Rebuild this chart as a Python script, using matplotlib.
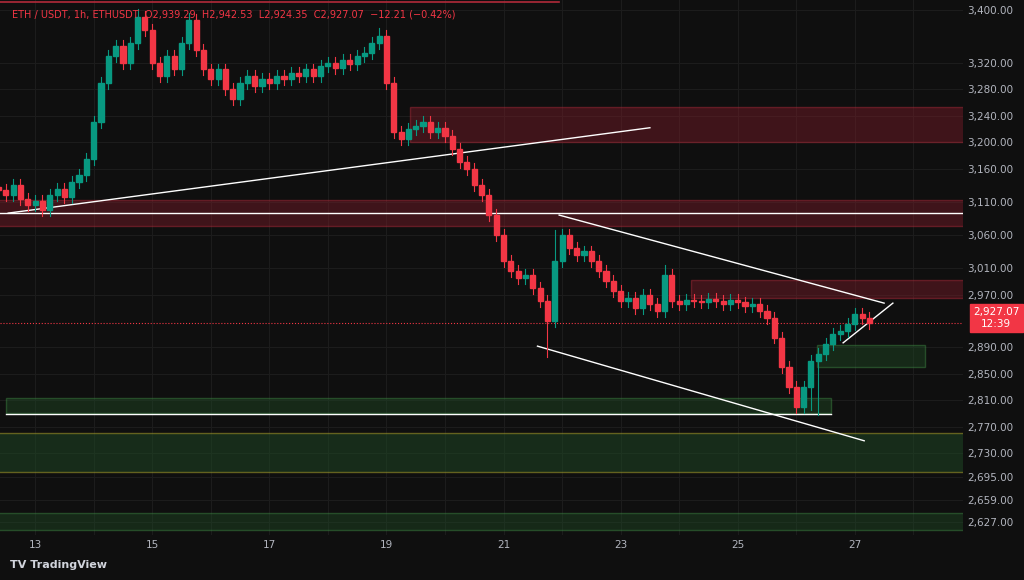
import matplotlib.pyplot as plt
from matplotlib.patches import Rectangle

# 3-hour closes, first candle at day 12.375
start_day = 12.375
step = 0.125
closes = [
    3128, 3120, 3135, 3115, 3105,
    3112, 3098, 3120, 3130, 3118, 3140, 3150, 3175,
    3230, 3290, 3330, 3345, 3320, 3350, 3390, 3370,
    3320, 3300, 3330, 3310, 3350, 3385, 3340, 3310,
    3295, 3310, 3280, 3265, 3290, 3300, 3285, 3295,
    3290, 3300, 3295, 3305, 3300, 3310, 3300, 3315,
    3320, 3312, 3325, 3318, 3330, 3335, 3350, 3360,
    3290, 3215, 3205, 3220, 3225, 3230, 3215, 3222,
    3210, 3190, 3170, 3160, 3135, 3120, 3090, 3060,
    3020, 3005, 2995, 3000, 2980, 2960, 2930, 3020,
    3060, 3040, 3030, 3035, 3020, 3005, 2990, 2975,
    2960, 2965, 2950, 2970, 2955, 2945, 3000, 2960,
    2955, 2962, 2960, 2958, 2963, 2960, 2955, 2962,
    2958, 2952, 2955, 2945, 2935, 2905, 2860, 2830,
    2800, 2830, 2870, 2880, 2895, 2910, 2915, 2925,
    2940, 2935, 2927,
]
# notable wick extremes: candle index -> (high, low)
wick_extremes = {19: (3402, None), 26: (3395, None), 52: (3372, None),
                 75: (None, 2875), 76: (3068, None), 91: (3015, None),
                 112: (None, 2788), 111: (None, 2795)}
default_wick = 9

tick_prices = [3400, 3320, 3280, 3240, 3200, 3160, 3110, 3060, 3010, 2970,
               2890, 2850, 2810, 2770, 2730, 2695, 2659, 2627]
day_ticks = [13, 15, 17, 19, 21, 23, 25, 27]
last_price = 2927.07

BG = "#0f0f0f"
UP = "#089981"
DOWN = "#f23645"

fig = plt.figure(figsize=(10.24, 5.8), dpi=100, facecolor=BG)
ax = fig.add_axes([0, 0.078, 0.94, 0.922], facecolor=BG)
ax.set_xlim(12.4, 28.84)
ax.set_ylim(2607, 3415)

for p in tick_prices:
    ax.axhline(p, color="#1c1c1c", lw=0.8, zorder=0)
for d in day_ticks:
    ax.axvline(d, color="#1c1c1c", lw=0.8, zorder=0)
    ax.axvline(d + 1, color="#1c1c1c", lw=0.8, zorder=0)

# zones
def zone(x0, x1, lo, hi, face, edge, alpha=0.45):
    ax.add_patch(Rectangle((x0, lo), x1 - x0, hi - lo, facecolor=face,
                           edgecolor=edge, lw=1, alpha=alpha, zorder=1))

zone(19.4, 30, 3200, 3253, "#7a1c28", "#b02a3a")
zone(11, 30, 3073, 3113, "#7a1c28", "#b02a3a")
zone(24.2, 30, 2965, 2992, "#7a1c28", "#b02a3a")
zone(26.35, 28.2, 2861, 2894, "#1f4a25", "#3f8a45")
zone(12.5, 26.6, 2791, 2814, "#1f4a25", "#3f8a45")
zone(11, 30, 2702, 2761, "#1f4a25", "#b5a82a", alpha=0.5)
zone(11, 30, 2614, 2640, "#1f4a25", "#3f8a45")
ax.plot([12.4, 21.95], [3412, 3412], color="#b02a3a", lw=1.2)

# lines
ax.axhline(3093, color="white", lw=1, zorder=3)
ax.plot([12.5, 26.6], [2790, 2790], color="white", lw=1, zorder=3)
ax.plot([12.54, 23.5], [3093, 3222], color="white", lw=1, zorder=3)
ax.plot([21.95, 27.5], [3090, 2957], color="white", lw=1, zorder=3)
ax.plot([21.58, 27.16], [2892, 2749], color="white", lw=1, zorder=3)
ax.plot([26.8, 27.65], [2897, 2957], color="white", lw=1, zorder=3)
ax.axhline(last_price, color=DOWN, lw=0.8, ls=":", zorder=3)

# candles
opens = [closes[0] + 5] + closes[:-1]
for i, (o, c) in enumerate(zip(opens, closes)):
    x = start_day + i * step
    hi = max(o, c) + default_wick
    lo = min(o, c) - default_wick
    eh, el = wick_extremes.get(i, (None, None))
    if eh: hi = eh
    if el: lo = el
    col = UP if c >= o else DOWN
    ax.plot([x, x], [lo, hi], color=col, lw=0.8, zorder=4)
    ax.add_patch(Rectangle((x - step * 0.35, min(o, c)), step * 0.7,
                           max(abs(c - o), 1.5), color=col, zorder=5))

ax.yaxis.tick_right()
ax.set_yticks(tick_prices)
ax.set_yticklabels([f"{p:,}.00" for p in tick_prices])
ax.set_xticks(day_ticks)
ax.tick_params(colors="#b2b5be", labelsize=7.5, length=0)
for s in ax.spines.values():
    s.set_visible(False)

ax.text(3.3, 0, "", transform=ax.transAxes)
fig.text(0.973, 0.452, f"{last_price:,.2f}\n12:39", color="white", fontsize=7.5,
         ha="center", va="center",
         bbox=dict(boxstyle="square,pad=0.3", fc=DOWN, ec=DOWN))
fig.text(0.012, 0.975, "ETH / USDT, 1h, ETHUSDT  O2,939.29  H2,942.53  L2,924.35  C2,927.07  \u221212.21 (\u22120.42%)",
         color=DOWN, fontsize=7, va="center")
fig.text(0.01, 0.025, "TV TradingView", color="#d1d4dc", fontsize=8, fontweight="bold", va="center")

fig.savefig("out.png", dpi=100, facecolor=BG)
